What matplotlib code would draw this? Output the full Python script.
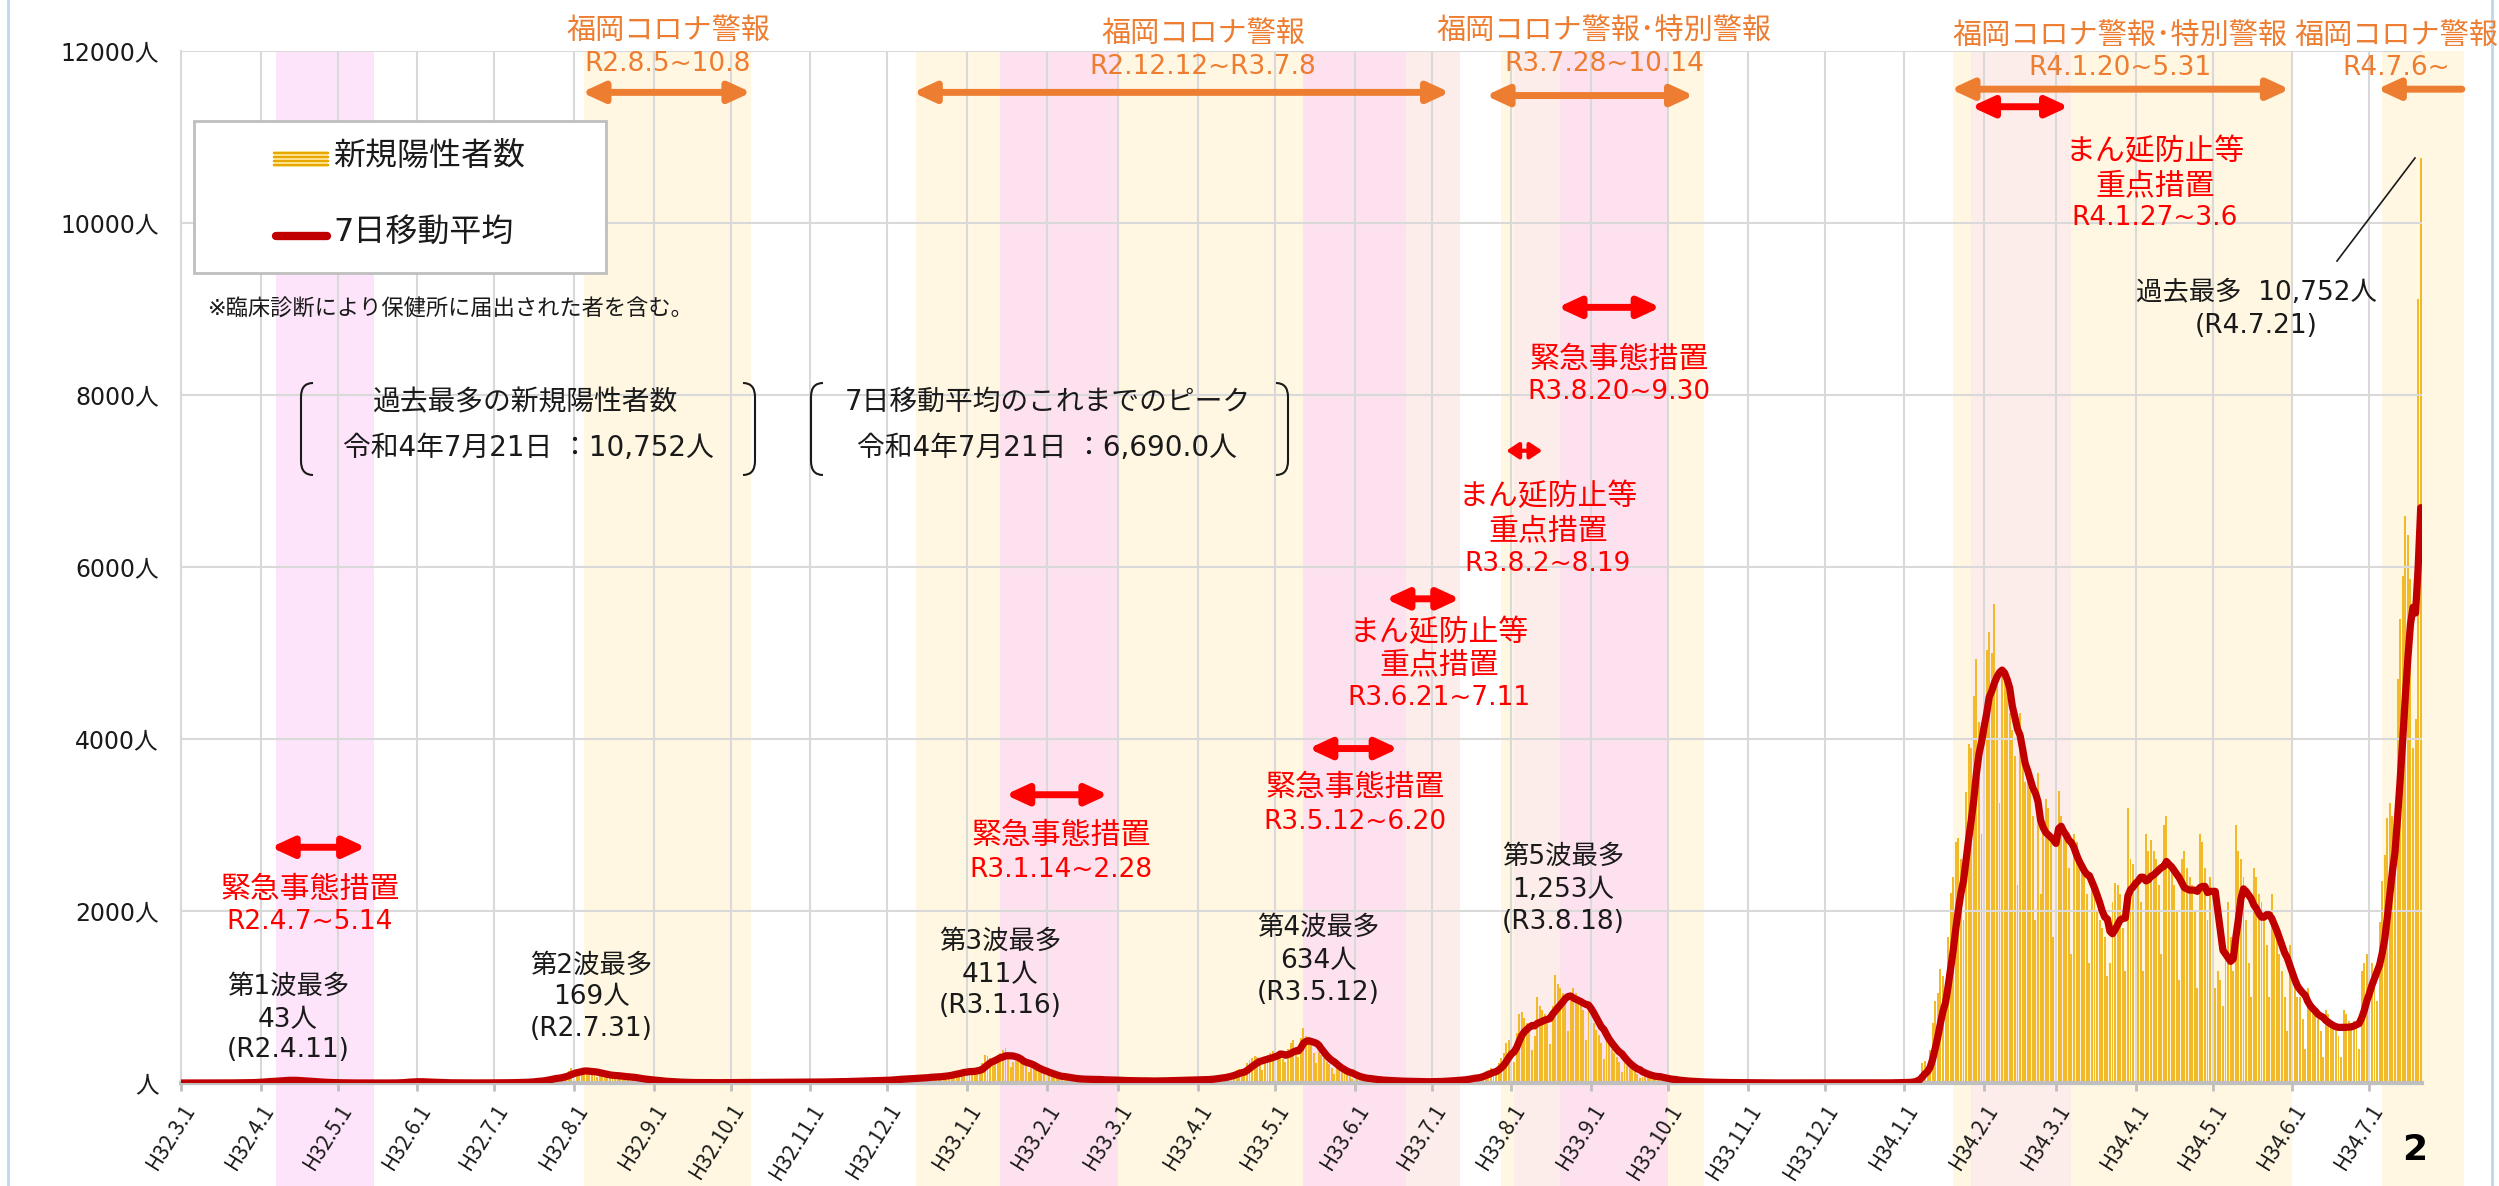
import numpy as np
import pandas as pd
import matplotlib
matplotlib.use('Agg')
import matplotlib.pyplot as plt
import matplotlib.dates as mdates
from matplotlib.patches import Rectangle, PathPatch
from matplotlib.path import Path
from matplotlib.lines import Line2D

plt.rcParams['font.family'] = ['DejaVu Sans', 'Noto Sans CJK JP']

# 新規陽性者数（日別、2020-03-01 ～ 2022-07-21）
m2020_03 = [0, 0, 0, 1, 0, 0, 1, 0, 1, 0, 2, 1, 0, 1, 0, 1, 2, 0, 1, 3, 1, 2, 1, 3, 5, 4, 3, 6, 8, 10, 12]
m2020_04 = [15, 19, 22, 24, 21, 17, 26, 30, 35, 38, 43, 28, 18, 25, 30, 22, 27, 20, 16, 12, 14, 10, 9, 8, 6, 4, 3, 5, 2, 3]
m2020_05 = [2, 1, 0, 1, 0, 0, 1, 0, 0, 1, 0, 0, 0, 0, 0, 0, 0, 0, 0, 0, 0, 0, 3, 4, 6, 8, 11, 22, 16, 14, 12]
m2020_06 = [18, 10, 12, 9, 8, 6, 5, 3, 4, 2, 3, 2, 1, 2, 1, 0, 1, 2, 0, 1, 0, 1, 0, 2, 1, 0, 1, 2, 3, 1]
m2020_07 = [2, 3, 2, 4, 3, 2, 5, 6, 8, 7, 10, 9, 6, 14, 18, 22, 30, 35, 28, 20, 45, 56, 66, 80, 70, 58, 45, 90, 110, 145, 169]
m2020_08 = [150, 120, 95, 140, 155, 150, 148, 130, 100, 70, 90, 110, 105, 98, 88, 70, 55, 80, 85, 78, 75, 68, 50, 40, 55, 48, 45, 40, 35, 28, 22]
m2020_09 = [30, 25, 20, 18, 15, 12, 8, 12, 10, 9, 8, 7, 5, 4, 6, 5, 4, 6, 5, 3, 2, 3, 4, 5, 6, 4, 3, 2, 5, 6]
m2020_10 = [8, 6, 7, 5, 3, 6, 8, 7, 9, 8, 6, 4, 7, 9, 8, 10, 7, 6, 5, 8, 9, 10, 12, 9, 6, 5, 10, 12, 11, 13, 10]
m2020_11 = [8, 7, 12, 15, 14, 16, 13, 10, 8, 16, 18, 20, 22, 19, 14, 12, 24, 28, 30, 26, 25, 20, 15, 30, 35, 38, 32, 30, 24, 20]
m2020_12 = [40, 45, 50, 48, 52, 40, 30, 55, 60, 62, 58, 65, 50, 38, 70, 75, 80, 85, 78, 60, 45, 90, 100, 110, 105, 115, 110, 90, 130, 150, 165]
m2021_01 = [130, 150, 120, 100, 170, 200, 230, 330, 310, 290, 200, 260, 320, 350, 380, 411, 300, 190, 250, 260, 280, 270, 240, 200, 130, 180, 170, 160, 150, 140, 110]
m2021_02 = [60, 90, 95, 85, 80, 75, 60, 40, 55, 60, 50, 45, 48, 40, 25, 45, 50, 48, 45, 40, 35, 20, 30, 42, 40, 38, 35, 30]
m2021_03 = [15, 25, 30, 28, 32, 30, 25, 14, 22, 26, 30, 28, 25, 20, 12, 24, 28, 30, 35, 32, 26, 18, 30, 34, 38, 40, 36, 30, 20, 35, 45]
m2021_04 = [40, 45, 50, 38, 25, 50, 60, 70, 75, 80, 70, 50, 100, 110, 130, 150, 160, 140, 90, 230, 270, 290, 310, 300, 260, 150, 300, 330, 350, 370]
m2021_05 = [380, 330, 300, 280, 250, 400, 460, 500, 420, 300, 520, 634, 550, 520, 440, 350, 230, 360, 330, 290, 250, 220, 170, 100, 180, 160, 140, 120, 100, 80, 45]
m2021_06 = [70, 65, 60, 55, 50, 40, 25, 40, 38, 35, 32, 30, 25, 15, 28, 26, 24, 22, 20, 15, 10, 18, 20, 16, 18, 15, 12, 8, 15, 18]
m2021_07 = [20, 22, 25, 18, 10, 25, 30, 32, 35, 40, 30, 20, 45, 55, 60, 70, 80, 65, 40, 90, 120, 140, 150, 170, 160, 90, 230, 290, 350, 460, 500]
m2021_08 = [450, 250, 580, 800, 820, 760, 700, 640, 380, 550, 1000, 900, 850, 800, 700, 450, 900, 1253, 1150, 1100, 1050, 980, 600, 950, 1100, 1050, 1000, 950, 850, 500, 900]
m2021_09 = [820, 700, 620, 560, 470, 280, 500, 450, 400, 350, 300, 250, 130, 230, 200, 180, 160, 140, 110, 60, 70, 110, 90, 85, 75, 60, 35, 60, 55, 45]
m2021_10 = [40, 35, 30, 15, 28, 25, 22, 20, 18, 15, 8, 14, 12, 12, 10, 9, 7, 4, 8, 7, 6, 6, 5, 4, 2, 4, 5, 4, 3, 3, 2]
m2021_11 = [1, 3, 2, 1, 2, 1, 0, 1, 2, 1, 0, 1, 1, 0, 0, 1, 2, 1, 0, 1, 0, 0, 1, 0, 1, 2, 1, 0, 0, 1]
m2021_12 = [1, 0, 1, 2, 0, 0, 1, 1, 2, 0, 1, 1, 0, 1, 2, 1, 1, 0, 2, 1, 0, 2, 3, 1, 2, 3, 2, 4, 6, 5, 8]
m2022_01 = [5, 8, 12, 25, 40, 70, 110, 230, 260, 200, 380, 700, 950, 1050, 1320, 1250, 900, 1700, 2210, 2400, 2800, 2850, 2600, 1900, 3380, 3940, 3900, 4500, 4930, 4200, 2900]
m2022_02 = [4600, 5040, 5240, 5000, 5570, 4700, 3260, 4800, 4810, 4700, 4300, 4110, 3800, 2300, 4300, 3700, 3500, 3700, 3400, 3100, 1900, 3600, 2200, 2900, 3300, 3200, 2900, 1700]
m2022_03 = [3300, 3400, 3100, 2870, 2900, 2500, 1500, 2900, 2800, 2600, 2480, 2500, 2200, 1400, 2400, 2300, 2000, 1900, 1800, 1700, 1250, 1400, 2100, 2330, 2300, 2200, 1800, 1300, 3200, 2600, 2550]
m2022_04 = [2600, 2400, 2100, 1300, 2900, 2700, 2830, 2700, 2600, 2300, 1500, 3000, 3100, 2600, 2500, 2300, 2000, 1200, 2600, 2700, 2500, 2400, 2300, 2000, 1100, 2900, 2800, 2500, 1900, 2400]
m2022_05 = [2000, 1100, 1300, 1200, 900, 1600, 2100, 1700, 1300, 3000, 2700, 2600, 2400, 1900, 1400, 1000, 2500, 2400, 2200, 2100, 1900, 1600, 1000, 2200, 1900, 1700, 1500, 1300, 1000, 600, 1600]
m2022_06 = [1300, 1100, 1000, 1000, 750, 400, 1100, 950, 850, 800, 750, 600, 300, 850, 800, 700, 680, 650, 550, 300, 850, 800, 720, 700, 720, 650, 400, 1300, 1400, 1500]
m2022_07 = [1300, 1400, 1200, 950, 1870, 2350, 2650, 3080, 3260, 3100, 2500, 4700, 5400, 5900, 6590, 6370, 5860, 3900, 4238, 9120, 10752]

cases = np.array(m2020_03 + m2020_04 + m2020_05 + m2020_06 + m2020_07 + m2020_08 + m2020_09
                 + m2020_10 + m2020_11 + m2020_12 + m2021_01 + m2021_02 + m2021_03 + m2021_04
                 + m2021_05 + m2021_06 + m2021_07 + m2021_08 + m2021_09 + m2021_10 + m2021_11
                 + m2021_12 + m2022_01 + m2022_02 + m2022_03 + m2022_04 + m2022_05 + m2022_06
                 + m2022_07, dtype=float)
dates = pd.date_range('2020-03-01', periods=len(cases), freq='D')
ma7 = pd.Series(cases, index=dates).rolling(7, min_periods=1).mean()

# 期間（開始, 終了）
alert_periods = [('2020-08-05', '2020-10-08'), ('2020-12-12', '2021-07-08'),
                 ('2021-07-28', '2021-10-14'), ('2022-01-20', '2022-05-31'),
                 ('2022-07-06', '2022-08-06')]
emergency_periods = [('2020-04-07', '2020-05-14'), ('2021-01-14', '2021-02-28'),
                     ('2021-05-12', '2021-06-20'), ('2021-08-20', '2021-09-30')]
manbo_periods = [('2021-06-21', '2021-07-11'), ('2021-08-02', '2021-08-19'),
                 ('2022-01-27', '2022-03-06')]

month_ticks = pd.date_range('2020-03-01', '2022-07-01', freq='MS')
month_labels = ['H%d.%d.1' % (d.year - 1988, d.month) for d in month_ticks]

W, H = 2499, 1186
YELLOW = '#FFF7E2'
PINK = '#FDE1EF'
PINK1 = '#FDE4FA'
MANBO = '#FDEDEA'
ORANGE = '#ED7D31'
RED = '#FF0000'
DARK = '#1A1A1A'


def D(s):
    return mdates.date2num(pd.Timestamp(s))


def ftext(x, y, s, **kw):
    kw.setdefault('ha', 'center')
    kw.setdefault('va', 'center')
    fig.text(x / W, 1 - y / H, s, **kw)


fig = plt.figure(figsize=(W / 100, H / 100), dpi=100)
ax = fig.add_axes([181 / W, 1 - 1083 / H, (2422 - 181) / W, (1083 - 51) / H])

for s, e in alert_periods:
    ax.axvspan(D(s), D(e) + 1, ymin=-0.1, ymax=1, color=YELLOW, lw=0, zorder=0.3, clip_on=False)
for i, (s, e) in enumerate(emergency_periods):
    ax.axvspan(D(s), D(e) + 1, ymin=-0.1, ymax=1, color=PINK1 if i == 0 else PINK,
               lw=0, zorder=0.35, clip_on=False)
for s, e in manbo_periods:
    ax.axvspan(D(s), D(e) + 1, ymin=-0.1, ymax=1, color=MANBO, lw=0, zorder=0.35, clip_on=False)

ax.bar(dates, cases, width=0.75, color='#F2B929', lw=0, zorder=1)
ax.plot(dates, ma7.values, color='#C00000', lw=5.2, zorder=3,
        solid_capstyle='round', solid_joinstyle='round')

ax.set_xlim(D('2020-03-01'), D('2022-07-21') + 0.5)
ax.set_ylim(0, 12000)
ax.set_yticks(range(0, 12001, 2000))
ax.set_yticklabels(['人'] + ['%d人' % v for v in range(2000, 12001, 2000)])
ax.set_xticks(mdates.date2num(month_ticks))
ax.set_xticklabels(month_labels, rotation=58, ha='right', va='top', rotation_mode='anchor',
                   family=['Noto Sans CJK JP', 'DejaVu Sans'])
ax.tick_params(axis='y', length=0, pad=16, labelsize=17, labelcolor=DARK)
ax.tick_params(axis='x', length=6, width=2, color='#BFBFBF', pad=6, labelsize=15, labelcolor=DARK)

ax.grid(True, color='#D9D9D9', lw=1.5)
ax.set_axisbelow('line')
for sp in ['top', 'right']:
    ax.spines[sp].set_visible(False)
ax.spines['left'].set_color('#D9D9D9')
ax.spines['left'].set_linewidth(1.5)
ax.spines['bottom'].set_color('#BFBFBF')
ax.spines['bottom'].set_linewidth(3)


def darrow(d0, d1, y, color, single=False, ms=20, lw=5, hl=0.65, hw=0.3):
    style = '-|>' if single else '<|-|>'
    ax.annotate('', xy=(D(d1), y), xytext=(D(d0), y), annotation_clip=False,
                arrowprops=dict(arrowstyle='%s,head_length=%g,head_width=%g' % (style, hl, hw),
                                color=color, lw=lw, shrinkA=0, shrinkB=0, mutation_scale=ms))


# 福岡コロナ警報
darrow('2020-08-04', '2020-10-09', 11519, ORANGE)
darrow('2020-12-11', '2021-07-08', 11519, ORANGE)
darrow('2021-07-22', '2021-10-11', 11482, ORANGE)
darrow('2022-01-19', '2022-05-31', 11556, ORANGE)
darrow('2022-08-06', '2022-07-04', 11556, ORANGE, single=True)
# 緊急事態措置・まん延防止等重点措置
darrow('2020-04-05', '2020-05-12', 2741, RED)
darrow('2021-01-16', '2021-02-25', 3352, RED)
darrow('2021-05-14', '2021-06-18', 3889, RED)
darrow('2021-06-13', '2021-07-12', 5630, RED)
darrow('2021-07-30', '2021-08-13', 7352, RED, ms=16, lw=3, hl=0.45, hw=0.3)
darrow('2021-08-19', '2021-09-28', 9019, RED)
darrow('2022-01-27', '2022-03-06', 11352, RED)

# orange labels
for x, y1, y2, t1, t2 in [(668, 31, 64, '福岡コロナ警報', 'R2.8.5~10.8'),
                          (1203, 34, 67, '福岡コロナ警報', 'R2.12.12~R3.7.8'),
                          (1604, 31, 64, '福岡コロナ警報･特別警報', 'R3.7.28~10.14'),
                          (2120, 36, 68, '福岡コロナ警報･特別警報', 'R4.1.20~5.31'),
                          (2396, 36, 68, '福岡コロナ警報', 'R4.7.6~')]:
    ftext(x, y1, t1, color=ORANGE, fontsize=21)
    ftext(x, y2, t2, color=ORANGE, fontsize=19)

# red labels
for x, ys, lines in [(310, (890, 922), ('緊急事態措置', 'R2.4.7~5.14')),
                     (1061, (835, 870), ('緊急事態措置', 'R3.1.14~2.28')),
                     (1355, (787, 822), ('緊急事態措置', 'R3.5.12~6.20')),
                     (1439, (633, 665, 698), ('まん延防止等', '重点措置', 'R3.6.21~7.11')),
                     (1548, (497, 531, 564), ('まん延防止等', '重点措置', 'R3.8.2~8.19')),
                     (1619, (360, 392), ('緊急事態措置', 'R3.8.20~9.30')),
                     (2155, (152, 186, 218), ('まん延防止等', '重点措置', 'R4.1.27~3.6'))]:
    for y, t in zip(ys, lines):
        ftext(x, y, t, color=RED, fontsize=19 if t.startswith('R') else 21.5)

# wave peaks
for x, ys, lines in [(288, (987, 1020, 1050), ('第1波最多', '43人', '(R2.4.11)')),
                     (591, (966, 997, 1029), ('第2波最多', '169人', '(R2.7.31)')),
                     (1000, (942, 975, 1006), ('第3波最多', '411人', '(R3.1.16)')),
                     (1318, (928, 961, 993), ('第4波最多', '634人', '(R3.5.12)')),
                     (1563, (857, 890, 922), ('第5波最多', '1,253人', '(R3.8.18)')),
                     (2256, (293, 326), ('過去最多  10,752人', '(R4.7.21)'))]:
    for y, t in zip(ys, lines):
        ftext(x, y, t, color=DARK, fontsize=19)
fig.add_artist(Line2D([2337 / W, 2415 / W], [1 - 261 / H, 1 - 158 / H], color=DARK, lw=1.2))


def bracket(x0, x1, y0, y1):
    w, h = 12, 14
    left = [(x0 + w, y0), (x0, y0), (x0, y0 + h), (x0, y1 - h), (x0, y1), (x0 + w, y1)]
    right = [(x1 - w, y0), (x1, y0), (x1, y0 + h), (x1, y1 - h), (x1, y1), (x1 - w, y1)]
    codes = [Path.MOVETO, Path.CURVE3, Path.CURVE3, Path.LINETO, Path.CURVE3, Path.CURVE3]
    for pts in (left, right):
        p = Path([(px / W, 1 - py / H) for px, py in pts], codes)
        fig.add_artist(PathPatch(p, transform=fig.transFigure, fill=False, lw=1.5, ec=DARK))


bracket(301, 755, 383, 475)
bracket(811, 1288, 383, 475)
ftext(526, 402, '過去最多の新規陽性者数', color=DARK, fontsize=20)
ftext(528, 448, '令和4年7月21日 ：10,752人', color=DARK, fontsize=20)
ftext(1048, 402, '7日移動平均のこれまでのピーク', color=DARK, fontsize=20)
ftext(1047, 448, '令和4年7月21日 ：6,690.0人', color=DARK, fontsize=20)

# legend
fig.add_artist(Rectangle((194 / W, 1 - 273 / H), (606 - 194) / W, (273 - 121) / H,
                         transform=fig.transFigure, fc='white', ec='#BFBFBF', lw=2))
fig.add_artist(Rectangle((274 / W, 1 - 167 / H), 54 / W, 16 / H,
                         transform=fig.transFigure, fc='#FFE699', lw=0))
for yy in (152.5, 156.5, 160.5, 164.5):
    fig.add_artist(Line2D([274 / W, 328 / W], [1 - yy / H] * 2, color='#E6A700', lw=1.6))
fig.add_artist(Line2D([276 / W, 327 / W], [1 - 236 / H] * 2, color='#C00000', lw=6,
                      solid_capstyle='round'))
ftext(333, 157, '新規陽性者数', ha='left', color=DARK, fontsize=23)
ftext(333, 233, '7日移動平均', ha='left', color=DARK, fontsize=23)
ftext(208, 309, '※臨床診断により保健所に届出された者を含む。', ha='left', color=DARK, fontsize=16)

ftext(2415, 1150, '2', color='black', fontsize=26, fontweight='bold')
for bx in (8, 2492):
    fig.add_artist(Line2D([bx / W] * 2, [0, 1], color='#BDD7EE', lw=2))

fig.savefig('out.png', dpi=100)
